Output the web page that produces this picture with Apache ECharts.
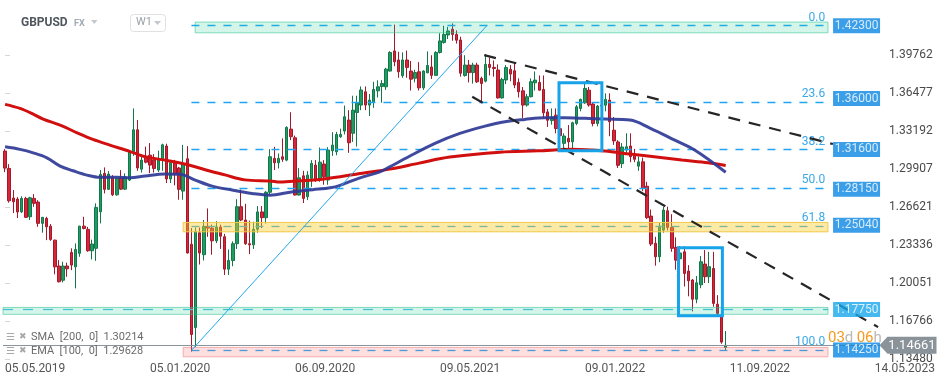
<!DOCTYPE html>
<html><head><meta charset="utf-8">
<script src="https://cdn.jsdelivr.net/npm/echarts@6/dist/echarts.min.js"></script>
<style>html,body{margin:0;padding:0;background:#fff}#c{width:949px;height:384px}</style>
</head><body><div id="c"></div>
<script>
// ---------- DATA ----------
const startDate = [2019, 4, 5];   // first weekly candle: 05.05.2019
const weekCount = 212;            // weeks on the time axis (to May 2023)
const xTickLabels = ['05.05.2019','05.01.2020','06.09.2020','09.05.2021','09.01.2022','11.09.2022','14.05.2023'];
const priceTicks = [1.13480,1.16766,1.20051,1.23336,1.26621,1.29907,1.33192,1.36477,1.39762];
const yMax = 1.4297;

const open = [1.3146,1.2996,1.2740,1.2731,1.2621,1.2737,1.2578,1.2737,1.2705,1.2521,1.2564,1.2497,1.2376,1.2152,1.2029,1.2152,1.2270,1.2145,1.2262,1.2497,
1.2469,1.2284,1.2305,1.2621,1.2953,1.2815,1.2918,1.2768,1.2918,1.2817,1.2895,1.3140,1.3330,1.2990,1.3090,1.3111,1.3068,1.2982,1.3068,1.3190,
1.2905,1.3045,1.3000,1.2800,1.3080,1.2340,1.1620,1.2440,1.2250,1.2495,1.2480,1.2370,1.2490,1.2405,1.2125,1.2200,1.2345,1.2665,1.2550,1.2345,
1.2335,1.2470,1.2620,1.2570,1.2790,1.3083,1.3045,1.3097,1.3068,1.3336,1.3261,1.2766,1.2932,1.2751,1.2910,1.3025,1.2904,1.3034,1.2896,1.3149,
1.3140,1.3270,1.3319,1.3414,1.3300,1.3480,1.3544,1.3659,1.3544,1.3572,1.3667,1.3705,1.3702,1.3838,1.4012,1.3934,1.3798,1.3934,1.3838,1.3776,
1.3832,1.3693,1.3823,1.3873,1.3801,1.3999,1.4086,1.4150,1.4200,1.4155,1.4107,1.3800,1.3890,1.3825,1.3890,1.3775,1.3751,1.3896,1.3870,1.3847,
1.3606,1.3761,1.3853,1.3841,1.3740,1.3667,1.3544,1.3616,1.3737,1.3740,1.3679,1.3485,1.3410,1.3457,1.3340,1.3213,1.3256,1.3226,1.3385,1.3515,
1.3563,1.3673,1.3553,1.3385,1.3535,1.3543,1.3587,1.3327,1.3225,1.3037,1.3155,1.3190,1.3110,1.3016,1.3053,1.2842,1.2584,1.2348,1.2232,1.2463,
1.2630,1.2486,1.2314,1.2215,1.2275,1.2108,1.2031,1.1865,1.1990,1.2169,1.2060,1.2131,1.1822,1.1714,1.1448];
const high = [1.3163,1.3033,1.2809,1.2748,1.2755,1.2751,1.2751,1.2774,1.2722,1.2575,1.2578,1.2515,1.2380,1.2203,1.2189,1.2180,1.2305,1.2348,1.2500,1.2578,
1.2491,1.2380,1.2694,1.2982,1.3005,1.2973,1.2938,1.2918,1.2982,1.2953,1.3155,1.3515,1.3415,1.3120,1.3185,1.3215,1.3120,1.3150,1.3210,1.3210,
1.3070,1.3070,1.3010,1.3200,1.3189,1.2480,1.2485,1.2485,1.2550,1.2650,1.2510,1.2540,1.2510,1.2430,1.2295,1.2365,1.2730,1.2813,1.2690,1.2545,
1.2535,1.2670,1.2670,1.2800,1.3163,1.3183,1.3125,1.3256,1.3360,1.3482,1.3280,1.2999,1.2975,1.2973,1.3068,1.3068,1.3177,1.3068,1.3180,1.3310,
1.3312,1.3340,1.3540,1.3500,1.3625,1.3625,1.3705,1.3705,1.3640,1.3745,1.3758,1.3760,1.3866,1.4010,1.4240,1.4005,1.4000,1.4015,1.3925,1.3850,
1.3915,1.3845,1.4008,1.3975,1.4010,1.4165,1.4230,1.4220,1.4250,1.4190,1.4135,1.3975,1.3935,1.3910,1.3910,1.3790,1.3985,1.3955,1.3930,1.3895,
1.3780,1.3890,1.3890,1.3915,1.3775,1.3700,1.3640,1.3775,1.3835,1.3800,1.3800,1.3510,1.3515,1.3515,1.3370,1.3300,1.3371,1.3400,1.3545,1.3600,
1.3745,1.3700,1.3565,1.3545,1.3640,1.3645,1.3645,1.3440,1.3240,1.3215,1.3300,1.3300,1.3165,1.3100,1.3090,1.2880,1.2640,1.2405,1.2525,1.2665,
1.2665,1.2600,1.2400,1.2325,1.2324,1.2160,1.2040,1.2065,1.2238,1.2290,1.2275,1.2275,1.1900,1.1760,1.1590];
const low = [1.2964,1.2700,1.2610,1.2567,1.2610,1.2567,1.2550,1.2664,1.2491,1.2440,1.2376,1.2370,1.2080,1.2010,1.2010,1.2059,1.2117,1.1959,1.2232,1.2469,
1.2275,1.2209,1.2197,1.2521,1.2780,1.2809,1.2757,1.2760,1.2809,1.2810,1.2887,1.3105,1.2975,1.2960,1.3040,1.2955,1.2960,1.2965,1.2975,1.2870,
1.2870,1.2850,1.2725,1.2725,1.2260,1.1412,1.1450,1.2165,1.2200,1.2405,1.2250,1.2350,1.2300,1.2075,1.2075,1.2150,1.2300,1.2540,1.2335,1.2255,
1.2300,1.2440,1.2480,1.2520,1.2770,1.2982,1.2996,1.3053,1.3058,1.3241,1.2762,1.2762,1.2697,1.2722,1.2837,1.2880,1.2880,1.2855,1.2855,1.3105,
1.3110,1.3260,1.3290,1.3131,1.3225,1.3185,1.3500,1.3500,1.3450,1.3520,1.3610,1.3565,1.3675,1.3835,1.3880,1.3780,1.3780,1.3780,1.3670,1.3740,
1.3670,1.3675,1.3820,1.3770,1.3800,1.3990,1.4075,1.4115,1.4100,1.4075,1.3790,1.3790,1.3740,1.3730,1.3735,1.3570,1.3740,1.3800,1.3790,1.3600,
1.3600,1.3725,1.3750,1.3690,1.3610,1.3430,1.3530,1.3610,1.3670,1.3670,1.3430,1.3355,1.3375,1.3300,1.3195,1.3165,1.3161,1.3170,1.3370,1.3490,
1.3555,1.3530,1.3360,1.3360,1.3490,1.3490,1.3275,1.3200,1.3000,1.3000,1.3130,1.3050,1.3050,1.2975,1.2800,1.2560,1.2325,1.2155,1.2185,1.2440,
1.2460,1.2275,1.2120,1.2160,1.1975,1.1890,1.1760,1.1830,1.1960,1.2005,1.2005,1.1800,1.1715,1.1480,1.1425];
const close = [1.2999,1.2716,1.2708,1.2619,1.2737,1.2573,1.2742,1.2694,1.2521,1.2573,1.2491,1.2382,1.2145,1.2016,1.2152,1.2128,1.2160,1.2296,1.2497,1.2477,
1.2284,1.2342,1.2659,1.2944,1.2815,1.2947,1.2768,1.2910,1.2817,1.2923,1.3140,1.3330,1.3000,1.3068,1.3050,1.3025,1.2996,1.3068,1.3200,1.2905,
1.3045,1.2945,1.2815,1.3035,1.2265,1.1560,1.2450,1.2265,1.2495,1.2480,1.2370,1.2490,1.2410,1.2125,1.2200,1.2345,1.2665,1.2550,1.2345,1.2335,
1.2470,1.2620,1.2570,1.2790,1.3097,1.3045,1.3083,1.3075,1.3351,1.3270,1.2766,1.2915,1.2737,1.2938,1.3040,1.2904,1.3050,1.2924,1.3155,1.3198,
1.3290,1.3290,1.3443,1.3218,1.3500,1.3560,1.3674,1.3544,1.3587,1.3679,1.3702,1.3730,1.3855,1.3999,1.3919,1.3832,1.3934,1.3870,1.3768,1.3825,
1.3693,1.3838,1.3887,1.3801,1.3999,1.4099,1.4155,1.4185,1.4155,1.4105,1.3820,1.3890,1.3825,1.3890,1.3745,1.3731,1.3896,1.3870,1.3860,1.3606,
1.3766,1.3868,1.3812,1.3717,1.3659,1.3544,1.3616,1.3746,1.3760,1.3673,1.3477,1.3413,1.3440,1.3341,1.3280,1.3276,1.3226,1.3391,1.3529,1.3593,
1.3688,1.3544,1.3385,1.3535,1.3543,1.3593,1.3400,1.3234,1.3023,1.3181,1.3183,1.3098,1.3075,1.3053,1.2823,1.2570,1.2342,1.2232,1.2497,1.2636,
1.2486,1.2305,1.2203,1.2265,1.2088,1.2024,1.1865,1.2007,1.2189,1.2060,1.2146,1.1829,1.1742,1.1494,1.14661];

// moving averages (week index, value)
const smaWeek  = [0,3.6,6.8,9.2,13.3,17.4,21.2,25.3,30.2,33.8,38.6,43.9,48.3,53.1,57.9,64,66.4,71.2,76,80.9,85.7,92.9,100,107.4,119.5,128.7,136.9,144.8,150.9,155.2,163.4,169.7,174];
const smaValue = [1.3550,1.3515,1.3466,1.3423,1.3371,1.3304,1.3247,1.3198,1.3142,1.3097,1.3068,1.3030,1.2985,1.2940,1.2897,1.2887,1.2878,1.2889,1.2901,1.2924,1.2953,1.2990,1.3042,1.3094,1.3137,1.3148,1.3161,1.3146,1.3120,1.3103,1.3068,1.3045,1.30214];
const emaWeek  = [0,3.6,6.8,10.1,13.3,16.4,19.8,22.9,27,30.2,33.8,38.6,42.2,45.9,50,54.8,59.6,64,68.8,74.3,78.5,80.9,85.7,90.5,92.9,98.2,103.8,109.8,115.9,120.7,125.5,130.3,135.2,140,144.8,150.9,155.7,161.7,166.5,174];
const emaValue = [1.3183,1.3161,1.3131,1.3088,1.3016,1.2976,1.2938,1.2919,1.2919,1.2915,1.2930,1.2947,1.2945,1.2895,1.2843,1.2809,1.2780,1.2765,1.2790,1.2812,1.2829,1.2850,1.2915,1.2967,1.3010,1.3112,1.3213,1.3299,1.3362,1.3400,1.3420,1.3434,1.3434,1.3429,1.3423,1.3414,1.3345,1.3241,1.3155,1.29628];

// levels
const levelPrices = [1.42300,1.36000,1.31600,1.28150,1.25040,1.17750,1.14250];
const currentPrice = 1.14661;
const fibRatios = [0,23.6,38.2,50.0,61.8,100];
const fibHigh = 1.42300, fibLow = 1.14250;
const fibStartWeek = 45.0, fibEndWeek = 198.5;
const zoneLow   = [1.4169,1.2448,1.1734,1.1367];
const zoneHigh  = [1.4262,1.2529,1.1794,1.1448];
const zoneStart = [45.9,43.0,-0.5,43.0];
const zoneEnd = 198.7;
const srLine = 1.17750;
// trend lines [week, price]
const blueTrend  = [[45.06,1.1425],[116.3,1.4230]];
const upperTrend = [[115.7,1.39762],[199.9,1.3207]];
const lowerTrend = [[112.8,1.3616],[210.8,1.1624]];
// highlighted boxes [weekFrom, priceHigh, weekTo, priceLow]
const boxes = [[133.75,1.3737,144.1,1.3149],[162.6,1.2310,173.2,1.1722]];

// ---------- BUILD ----------
function fmtDate(d){return String(d.getUTCDate()).padStart(2,'0')+'.'+String(d.getUTCMonth()+1).padStart(2,'0')+'.'+d.getUTCFullYear();}
const weeks=[];
{const t0=Date.UTC(startDate[0],startDate[1],startDate[2]);for(let i=0;i<weekCount;i++)weeks.push(fmtDate(new Date(t0+i*7*864e5)));}
const candles = open.map((o,i)=>[o,close[i],low[i],high[i]]);
const sma = smaWeek.map((w,i)=>[w,smaValue[i]]);
const ema = emaWeek.map((w,i)=>[w,emaValue[i]]);
const interval = (priceTicks[priceTicks.length-1]-priceTicks[0])/(priceTicks.length-1);
const FONT='Roboto';
const labelWeek = 205.6;
const levelColors = ['#0a86e4','#0a86e4','#0a86e4','#0a86e4','#0a86e4','#18a6ec','#0a86e4'];
const zoneFill = ['rgba(40,205,150,0.2)','rgba(250,205,40,0.42)','rgba(40,205,150,0.2)','rgba(245,110,110,0.22)'];
const zoneBorder = ['rgba(40,195,140,0.55)','#f2c94c','rgba(40,195,140,0.55)','rgba(240,120,120,0.55)'];

const fibLines = fibRatios.map(r=>{
  const p = fibHigh - r/100*(fibHigh-fibLow);
  return [{coord:[fibStartWeek,p],lineStyle:{color:'#1ea6ee',width:1.3,type:[8,8]},
           label:{show:true,position:'insideEndTop',formatter:r.toFixed(1),color:'#3aa8e6',fontSize:12,fontFamily:FONT,distance:2}},
          {coord:[fibEndWeek,p]}];
});
fibLines.push([{coord:[-0.5,srLine],lineStyle:{color:'#4cc0e3',width:1.3,type:[10,10]},label:{show:false}},{coord:[zoneEnd,srLine]}]);
fibLines.push([{coord:[-0.5,currentPrice],lineStyle:{color:'#8b949b',width:1,type:'solid'},label:{show:false}},{coord:[weekCount-0.5,currentPrice]}]);

const chart = echarts.init(document.getElementById('c'));
chart.setOption({
  animation:false,
  backgroundColor:'#fff',
  textStyle:{fontFamily:FONT},
  grid:{left:3,right:68,top:18,bottom:25},
  xAxis:[
    {type:'category',data:weeks,boundaryGap:true,axisLine:{show:false},axisTick:{show:false},splitLine:{show:false},
     axisLabel:{interval:(i,v)=>xTickLabels.includes(v),align:'left',color:'#555',fontSize:12,margin:4,fontFamily:FONT}},
    {type:'value',min:-0.5,max:weekCount-0.5,show:false}
  ],
  yAxis:{type:'value',position:'right',min:priceTicks[0],max:yMax,interval:interval,splitLine:{show:false},
    axisLine:{show:false},axisTick:{show:true,length:5,lineStyle:{color:'#d6d6d6'}},
    axisLabel:{margin:8,color:'#4a4a4a',fontSize:12,fontFamily:FONT,showMaxLabel:false,showMinLabel:true,
      formatter:v=>{let b=priceTicks[0];priceTicks.forEach(t=>{if(Math.abs(t-v)<Math.abs(b-v))b=t;});return b.toFixed(5);}}},
  series:[
    {type:'candlestick',name:'GBPUSD',data:candles,barWidth:3,z:2,silent:true,
     itemStyle:{color:'#1f9c63',color0:'#d82639',borderColor:'#13774a',borderColor0:'#a3182b',borderWidth:1}},
    {type:'line',name:'fib',xAxisIndex:1,data:[],silent:true,
     markLine:{z:3,silent:true,symbol:['none','none'],animation:false,data:fibLines}},
    {type:'line',name:'zones',xAxisIndex:1,data:[],silent:true,
     markArea:{z:4,silent:true,animation:false,data:zoneLow.map((lo,i)=>[
       {coord:[zoneStart[i],zoneHigh[i]],itemStyle:{color:zoneFill[i],borderColor:zoneBorder[i],borderWidth:1}},
       {coord:[zoneEnd,lo]}])}},
    {type:'line',name:'SMA',xAxisIndex:1,data:sma,smooth:0.35,symbol:'none',z:5,silent:true,
     lineStyle:{color:'#d10f0f',width:3}},
    {type:'line',name:'EMA',xAxisIndex:1,data:ema,smooth:0.35,symbol:'none',z:5,silent:true,
     lineStyle:{color:'#2f3a96',width:3,opacity:0.92}},
    {type:'line',xAxisIndex:1,data:blueTrend,symbol:'none',z:6,silent:true,lineStyle:{color:'#23a7ef',width:1}},
    {type:'line',xAxisIndex:1,data:upperTrend,symbol:'none',z:6,silent:true,lineStyle:{color:'#262626',width:2.2,type:[12,9]}},
    {type:'line',xAxisIndex:1,data:lowerTrend,symbol:'none',z:6,silent:true,lineStyle:{color:'#262626',width:2.2,type:[12,9]}},
    {type:'line',name:'boxes',xAxisIndex:1,data:[],silent:true,
     markArea:{z:7,silent:true,animation:false,data:boxes.map(b=>[
       {coord:[b[0],b[1]],itemStyle:{color:'rgba(0,0,0,0)',borderColor:'#16a3ea',borderWidth:3}},
       {coord:[b[2],b[3]]}])}},
    {type:'scatter',name:'levels',xAxisIndex:1,z:10,silent:true,symbol:'rect',symbolSize:[47,15],
     data:levelPrices.map((p,i)=>({value:[labelWeek,p],itemStyle:{color:levelColors[i]}})),
     label:{show:true,position:'inside',formatter:p=>p.value[1].toFixed(5),color:'#fff',fontSize:12,fontFamily:FONT},
     markPoint:{z:11,silent:true,animation:false,data:[{coord:[weekCount-0.5,currentPrice],
       symbol:'path://M0,8.5L8,0L57,0L57,17L8,17Z',symbolSize:[57,17],symbolOffset:[27,0],
       itemStyle:{color:'#8a9399'},
       label:{show:true,position:'inside',offset:[4,0],formatter:currentPrice.toFixed(5),color:'#fff',fontSize:13,fontFamily:FONT}}]}}
  ],
  graphic:[
    {type:'text',left:21,top:17,z:20,style:{text:'GBPUSD',fill:'#4f565d',font:'bold 12px Roboto'}},
    {type:'text',left:74,top:19,z:20,style:{text:'FX',fill:'#a0aab3',font:'bold 9px Roboto'}},
    {type:'polygon',z:20,shape:{points:[[91,20],[97.5,20],[94.25,24]]},style:{fill:'#c4c8cc'}},
    {type:'rect',z:20,shape:{x:130.5,y:14.5,width:35,height:17,r:3},style:{fill:'#fff',stroke:'#e0e0e0',lineWidth:1}},
    {type:'text',left:136,top:17,z:21,style:{text:'W1',fill:'#9aa0a6',font:'11px Roboto'}},
    {type:'polygon',z:21,shape:{points:[[154,21],[161,21],[157.5,25]]},style:{fill:'#c4c8cc'}},
    {type:'text',left:828,top:331,z:20,style:{text:'{o|03}{g|d} {o|06}{g|h}',rich:{o:{fill:'#f59b1f',font:'15px Roboto'},g:{fill:'#b8b8b8',font:'15px Roboto'}}}},
    {type:'text',left:6,top:332,z:20,style:{text:'☰',fill:'#a8a8a8',font:'10px "DejaVu Sans"'}},
    {type:'text',left:19,top:332,z:20,style:{text:'✖',fill:'#a8a8a8',font:'9px "DejaVu Sans"'}},
    {type:'text',left:31,top:332,z:20,style:{text:'SMA  [200,  0]  '+smaValue[smaValue.length-1].toFixed(5),fill:'#6b6b6b',font:'11px Roboto'}},
    {type:'text',left:6,top:346,z:20,style:{text:'☰',fill:'#a8a8a8',font:'10px "DejaVu Sans"'}},
    {type:'text',left:19,top:346,z:20,style:{text:'✖',fill:'#a8a8a8',font:'9px "DejaVu Sans"'}},
    {type:'text',left:31,top:346,z:20,style:{text:'EMA  [100,  0]  '+emaValue[emaValue.length-1].toFixed(5),fill:'#6b6b6b',font:'11px Roboto'}}
  ]
});
</script></body></html>
